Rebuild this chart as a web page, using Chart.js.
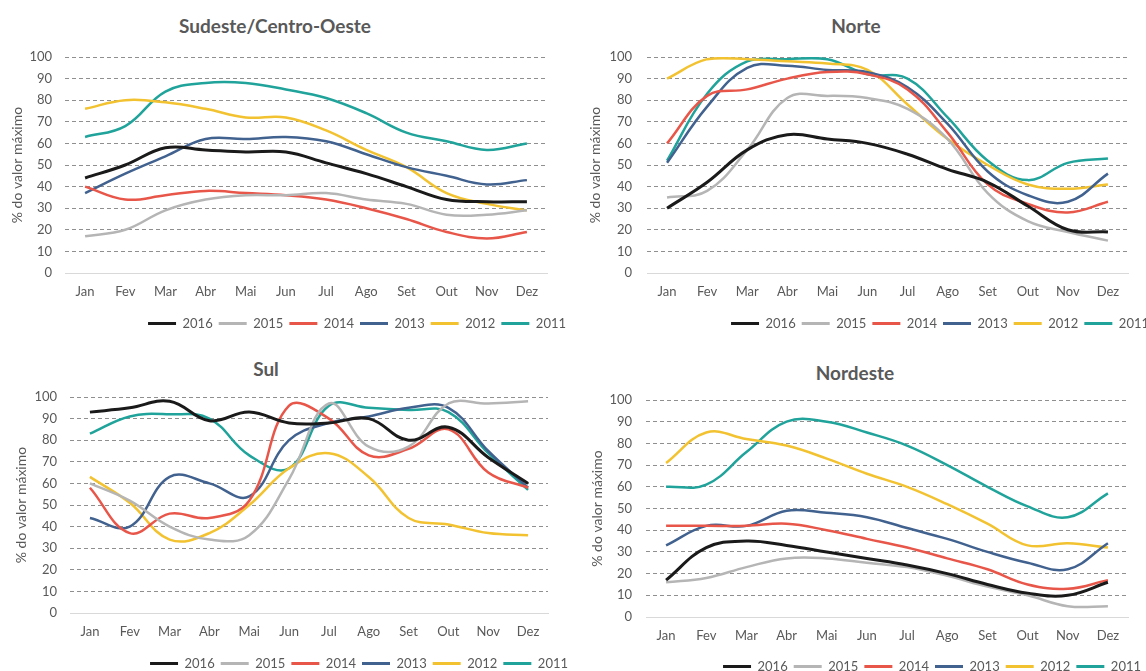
<!DOCTYPE html>
<html><head><meta charset="utf-8">
<script src="https://cdn.jsdelivr.net/npm/chart.js@4.4.1/dist/chart.umd.min.js"></script>
<style>
html,body{margin:0;padding:0;background:#fff;width:1146px;height:671px;overflow:hidden;position:relative}
canvas{position:absolute}
.t{position:absolute;transform:translate(-50%,-50%);font:bold 19px Lato, sans-serif;color:#595959;white-space:nowrap}
</style></head><body>
<div class="t" style="left:275px;top:25px">Sudeste/Centro-Oeste</div>
<div class="t" style="left:856px;top:25px">Norte</div>
<div class="t" style="left:266px;top:368px">Sul</div>
<div class="t" style="left:855px;top:372px">Nordeste</div>
<canvas id="c1"></canvas>
<canvas id="c2"></canvas>
<canvas id="c3"></canvas>
<canvas id="c4"></canvas>
<script>
const months = ['Jan','Fev','Mar','Abr','Mai','Jun','Jul','Ago','Set','Out','Nov','Dez'];
const years = ['2016','2015','2014','2013','2012','2011'];
const yTicks = [0,10,20,30,40,50,60,70,80,90,100];

// rows: 2016, 2015, 2014, 2013, 2012, 2011
const sudeste = [
  [44,50,58,57,56,56,51,46,40,34,33,33],
  [17,20,29,34,36,36,37,34,32,27,27,29],
  [40,34,36,38,37,36,34,30,25,19,16,19],
  [37,46,54,62,62,63,61,55,49,45,41,43],
  [76,80,79,76,72,72,66,57,49,37,32,29],
  [63,68,84,88,88,85,81,74,65,61,57,60]
];
const norte = [
  [30,42,57,64,62,60,55,48,42,31,20,19],
  [35,38,57,81,82,81,76,62,37,24,19,15],
  [60,82,85,90,93,92,85,65,41,32,28,33],
  [51,77,95,96,94,93,86,69,47,36,33,46],
  [90,99,99,98,97,94,78,62,50,41,39,41],
  [52,83,98,99,99,92,90,72,52,43,51,53]
];
const sul = [
  [93,95,98,89,93,88,88,90,80,86,72,60],
  [60,52,40,34,36,62,97,77,77,97,97,98],
  [58,37,46,44,52,96,90,73,76,85,65,58],
  [44,40,63,60,54,80,88,91,95,95,75,58],
  [63,51,34,37,50,67,74,63,44,41,37,36],
  [83,91,92,90,73,67,96,95,94,93,74,57]
];
const nordeste = [
  [17,32,35,33,30,27,24,20,15,11,10,16],
  [16,18,23,27,27,25,23,19,14,10,5,5],
  [42,42,42,43,40,36,32,27,22,15,13,17],
  [33,42,42,49,48,46,41,36,30,25,22,34],
  [71,85,82,79,73,66,60,52,43,33,34,32],
  [60,61,76,90,90,85,79,70,60,51,46,57]
];

const colors = ['#1a1a1a','#b5b5b5','#e8564a','#41618f','#f2c230','#1fa39a'];
const widths = [3,2.5,2.5,2.5,2.5,2.5];
Chart.defaults.font.family = 'Lato';
const txt = '#595959';

function makeChart(id, rows, o) {
  const cv = document.getElementById(id);
  cv.style.left = o.left + 'px';
  cv.style.top = o.top + 'px';
  cv.width = o.W; cv.height = o.H;
  cv.style.width = o.W + 'px'; cv.style.height = o.H + 'px';
  new Chart(cv, {
    type: 'line',
    data: {
      labels: months,
      datasets: years.map((y, i) => ({
        label: y, data: rows[i], borderColor: colors[i], backgroundColor: colors[i],
        borderWidth: widths[i], pointRadius: 0, tension: 0.4, fill: false
      }))
    },
    options: {
      responsive: false, animation: false,
      layout: {padding: {top: o.padT, left: o.padL, right: 0, bottom: 0}},
      plugins: {
        title: {display: false},
        tooltip: {enabled: false},
        legend: {
          position: 'bottom', align: 'end',
          labels: {
            boxWidth: 28, boxHeight: 3, padding: 6, color: txt, font: {size: 13},
            generateLabels: ch => Chart.defaults.plugins.legend.labels.generateLabels(ch).map(l => Object.assign(l, {lineWidth: 0}))
          }
        }
      },
      scales: {
        x: {
          offset: true,
          grid: {display: false, drawTicks: false},
          border: {display: true, color: '#d9d9d9', width: 1},
          ticks: {padding: 11, color: txt, font: {size: 13}, maxRotation: 0, autoSkip: false},
          afterFit: s => { s.height = o.xh; }
        },
        y: {
          min: 0, max: 100,
          afterBuildTicks: s => { s.ticks = yTicks.map(v => ({value: v})); },
          ticks: {padding: o.ypad, color: txt, font: {size: 13}},
          grid: {color: c => c.tick && c.tick.value === 0 ? 'rgba(0,0,0,0)' : '#8f8f8f', drawTicks: false, lineWidth: 1},
          border: {display: false, dash: [4, 3]},
          title: {display: true, text: '% do valor máximo', color: txt, font: {size: 14}, padding: {top: 4, bottom: 4}},
          afterFit: s => { s.width = o.yw; }
        },
        r: {
          position: 'right', display: true,
          grid: {display: false, drawTicks: false}, ticks: {display: false}, border: {display: false},
          afterFit: s => { s.width = o.rw; }
        }
      }
    }
  });
}

makeChart('c1', sudeste, {left: 0, top: 0, W: 572, H: 340, padT: 57, padL: 5, yw: 60, rw: 25, xh: 38, ypad: 13});
makeChart('c2', norte, {left: 573, top: 0, W: 582, H: 340, padT: 57, padL: 10, yw: 64, rw: 27, xh: 38, ypad: 15});
makeChart('c3', sul, {left: 0, top: 340, W: 574, H: 340, padT: 57, padL: 9, yw: 61, rw: 26, xh: 38, ypad: 13});
makeChart('c4', nordeste, {left: 573, top: 340, W: 574, H: 343, padT: 60, padL: 12, yw: 61, rw: 19, xh: 37, ypad: 14});
</script>
</body></html>
